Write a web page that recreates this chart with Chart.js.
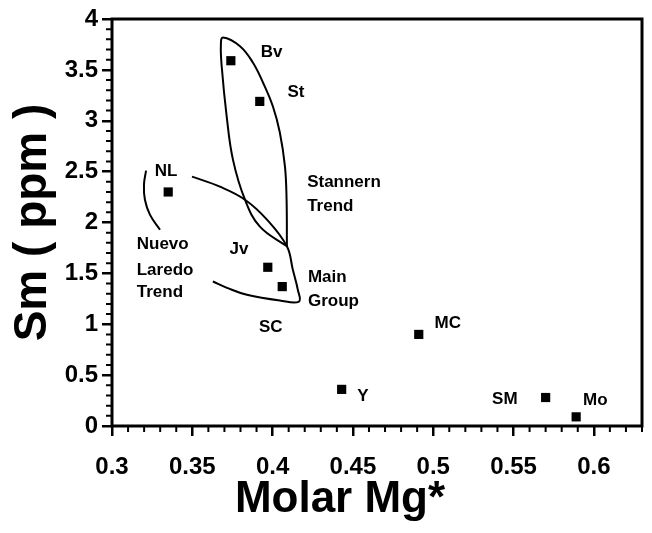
<!DOCTYPE html>
<html>
<head>
<meta charset="utf-8">
<script src="https://cdn.jsdelivr.net/npm/chart.js@4/dist/chart.umd.min.js"></script>
<style>
  body { margin: 0; background: #fff; }
</style>
</head>
<body>
<canvas id="myChart" width="652" height="533"></canvas>
<script>
// samples: molar Mg* vs Sm (ppm)
const sampleNames = ['NL', 'Bv', 'St', 'Jv', 'SC', 'MC', 'Y', 'SM', 'Mo'];
const molarMg = [0.335, 0.374, 0.392, 0.397, 0.406, 0.491, 0.443, 0.570, 0.589];
const smPpm = [2.30, 3.59, 3.19, 1.56, 1.37, 0.90, 0.36, 0.28, 0.09];

// hand-drawn trend outlines (data units)
const stannernX = [0.4089, 0.3921, 0.3828, 0.3753, 0.3714, 0.3683, 0.3678, 0.3691, 0.3797, 0.3877, 0.3940, 0.4002, 0.4045, 0.4077, 0.4087, 0.4089];
const stannernY = [1.766, 1.959, 2.224, 2.618, 3.044, 3.536, 3.750, 3.819, 3.733, 3.573, 3.376, 3.140, 2.884, 2.549, 2.224, 1.766];
const mainX = [0.3498, 0.3672, 0.3828, 0.3965, 0.4089, 0.4126, 0.4157, 0.4164, 0.4045, 0.3840, 0.3716, 0.3628];
const mainY = [2.451, 2.352, 2.224, 2.028, 1.766, 1.535, 1.339, 1.223, 1.233, 1.289, 1.358, 1.420];
const nuevoX = [0.3212, 0.3199, 0.3205, 0.3236, 0.3299];
const nuevoY = [2.510, 2.372, 2.224, 2.077, 1.929];

const xTickLabels = ['0.3', '0.35', '0.4', '0.45', '0.5', '0.55', '0.6'];
const yTickLabels = ['0', '0.5', '1', '1.5', '2', '2.5', '3', '3.5', '4'];

// text notes placed in data units
const notes = [
    ['Bv', 0.3994, 3.674, 'center'],
    ['St', 0.4145, 3.278, 'center'],
    ['NL', 0.3336, 2.500, 'center'],
    ['Stannern', 0.4215, 2.395, 'left'],
    ['Trend', 0.4215, 2.158, 'left'],
    ['Nuevo', 0.3154, 1.781, 'left'],
    ['Laredo', 0.3154, 1.535, 'left'],
    ['Trend', 0.3154, 1.309, 'left'],
    ['Jv', 0.3790, 1.732, 'center'],
    ['Main', 0.4220, 1.457, 'left'],
    ['Group', 0.4220, 1.223, 'left'],
    ['SC', 0.3989, 0.965, 'center'],
    ['MC', 0.5091, 1.014, 'center'],
    ['Y', 0.4562, 0.288, 'center'],
    ['SM', 0.5446, 0.266, 'center'],
    ['Mo', 0.6009, 0.256, 'center']
];

const toPts = (xs, ys) => xs.map((v, i) => ({ x: v, y: ys[i] }));
const FONT = '"Liberation Sans", Arial, Helvetica, sans-serif';

const outline = (xs, ys) => ({
    type: 'scatter',
    data: toPts(xs, ys),
    showLine: true,
    borderColor: '#000',
    borderWidth: 2,
    pointRadius: 0,
    tension: 0.4,
    fill: false
});

const extras = {
    id: 'extras',
    afterDraw(chart) {
        const { ctx, chartArea: a, scales: { x, y } } = chart;
        ctx.save();
        ctx.strokeStyle = '#000';
        ctx.lineWidth = 2;
        ctx.beginPath();
        for (let i = 1; i <= 33; i++) {
            if (i % 5 === 0) continue;
            const px = x.getPixelForValue(0.3 + i / 100);
            ctx.moveTo(px, a.bottom);
            ctx.lineTo(px, a.bottom + 6);
        }
        for (let i = 1; i < 40; i++) {
            if (i % 5 === 0) continue;
            const py = y.getPixelForValue(i / 10);
            ctx.moveTo(a.left - 6, py);
            ctx.lineTo(a.left, py);
        }
        ctx.stroke();
        ctx.lineWidth = 3;
        ctx.strokeRect(a.left, a.top, a.right - a.left, a.bottom - a.top);

        ctx.fillStyle = '#000';
        ctx.font = 'bold 17px ' + FONT;
        ctx.textBaseline = 'middle';
        notes.forEach(([t, nx, ny, al]) => {
            ctx.textAlign = al;
            ctx.fillText(t, x.getPixelForValue(nx), y.getPixelForValue(ny));
        });

        ctx.font = 'bold 44px ' + FONT;
        ctx.textAlign = 'center';
        ctx.fillText('Molar Mg*', 340, 500);
        ctx.restore();
    }
};

const ctx = document.getElementById('myChart').getContext('2d');
const myChart = new Chart(ctx, {
    type: 'scatter',
    data: {
        datasets: [
            {
                label: 'Sm',
                data: toPts(molarMg, smPpm),
                pointStyle: 'rect',
                pointRadius: 6.5,
                backgroundColor: '#000',
                borderWidth: 0
            },
            outline(stannernX, stannernY),
            outline(mainX, mainY),
            outline(nuevoX, nuevoY)
        ]
    },
    options: {
        responsive: false,
        animation: false,
        layout: { padding: { top: 19, right: 10, left: 0, bottom: 0 } },
        plugins: {
            legend: { display: false },
            tooltip: { enabled: false }
        },
        scales: {
            x: {
                type: 'linear',
                min: 0.3,
                max: 0.63,
                afterFit: (s) => { s.height = 107; },
                grid: { drawOnChartArea: false, tickLength: 10, lineWidth: 2.5, color: '#000' },
                border: { display: false },
                ticks: {
                    stepSize: 0.05,
                    includeBounds: false,
                    color: '#000',
                    padding: 17,
                    maxRotation: 0,
                    font: { family: FONT, size: 24, weight: 'bold' },
                    callback: (v) => xTickLabels[Math.round((v - 0.3) / 0.05)]
                }
            },
            y: {
                min: 0,
                max: 4,
                afterFit: (s) => { s.width = 112; },
                grid: { drawOnChartArea: false, tickLength: 10, lineWidth: 2.5, color: '#000' },
                border: { display: false },
                ticks: {
                    stepSize: 0.5,
                    color: '#000',
                    padding: 4,
                    font: { family: FONT, size: 24, weight: 'bold' },
                    callback: (v) => yTickLabels[Math.round(v * 2)]
                },
                title: {
                    display: true,
                    text: 'Sm ( ppm )',
                    color: '#000',
                    padding: { top: 10, bottom: 0 },
                    font: { family: FONT, size: 46, weight: 'bold', lineHeight: 1 }
                }
            }
        }
    },
    plugins: [extras]
});
</script>
</body>
</html>
